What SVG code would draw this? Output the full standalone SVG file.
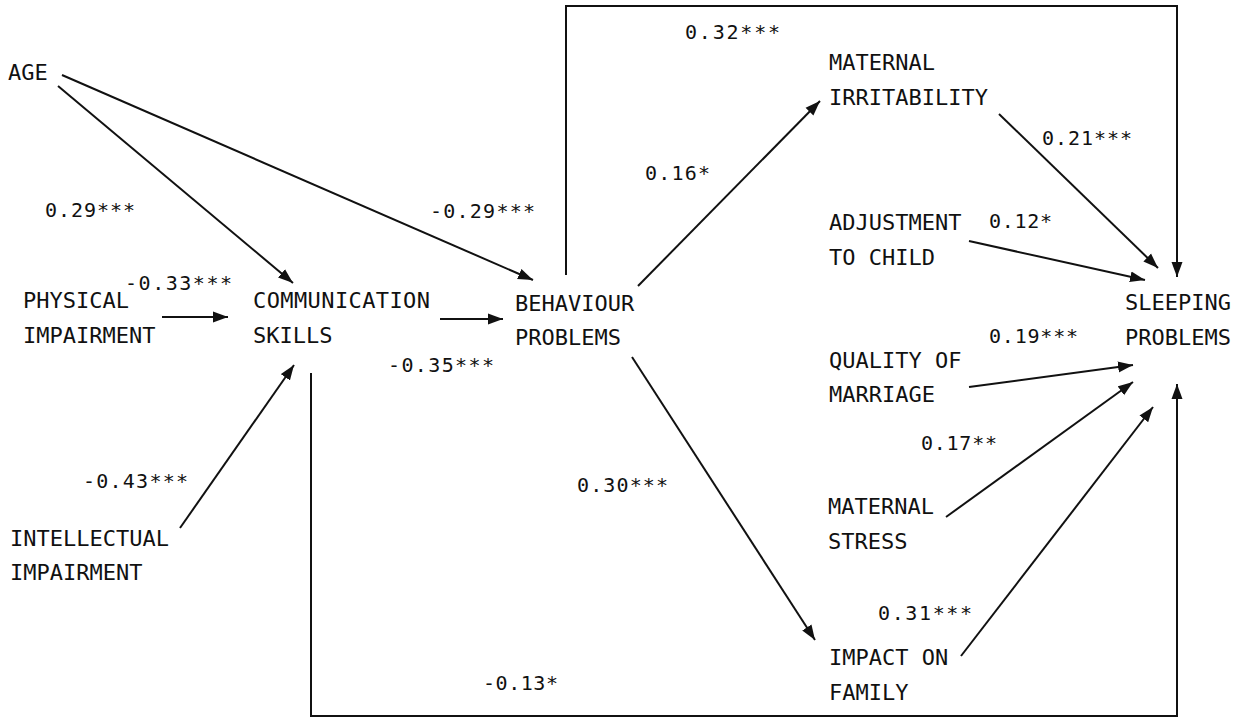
<svg xmlns="http://www.w3.org/2000/svg" width="1243" height="718" viewBox="0 0 1243 718">
<style>
.n{font-family:"DejaVu Sans Mono","Liberation Mono",monospace;font-size:22px;fill:#111}
.c{font-family:"DejaVu Sans Mono","Liberation Mono",monospace;font-size:20px;fill:#111}
.l{stroke:#111;stroke-width:2;fill:none}
</style>
<defs>
<marker id="a" markerUnits="userSpaceOnUse" markerWidth="16" markerHeight="12" refX="15" refY="6" orient="auto">
<path d="M0,0.5 L15,6 L0,11.5 z" fill="#111"/>
</marker>
</defs>
<rect width="1243" height="718" fill="#fff"/>
<g id="connectors">
<line class="l" x1="58" y1="86" x2="293" y2="283" marker-end="url(#a)"/>
<line class="l" x1="62" y1="75" x2="533" y2="280" marker-end="url(#a)"/>
<line class="l" x1="162" y1="317" x2="228" y2="317" marker-end="url(#a)"/>
<line class="l" x1="440" y1="319" x2="503" y2="319" marker-end="url(#a)"/>
<line class="l" x1="180" y1="528" x2="294" y2="365" marker-end="url(#a)"/>
<polyline class="l" points="311,373 311,716 1177,716 1177,384" marker-end="url(#a)"/>
<polyline class="l" points="566,275 566,6 1177,6 1177,277" marker-end="url(#a)"/>
<line class="l" x1="638" y1="286" x2="820" y2="101" marker-end="url(#a)"/>
<line class="l" x1="632" y1="357" x2="815" y2="640" marker-end="url(#a)"/>
<line class="l" x1="999" y1="114" x2="1158" y2="268" marker-end="url(#a)"/>
<line class="l" x1="969" y1="241" x2="1145" y2="280" marker-end="url(#a)"/>
<line class="l" x1="969" y1="387" x2="1133" y2="365" marker-end="url(#a)"/>
<line class="l" x1="946" y1="517" x2="1133" y2="382" marker-end="url(#a)"/>
<line class="l" x1="961" y1="656" x2="1153" y2="407" marker-end="url(#a)"/>
</g>
<g id="labels">
<text class="c" x="45" y="217" textLength="90" lengthAdjust="spacing">0.29***</text>
<text class="c" x="125" y="290" textLength="107" lengthAdjust="spacing">-0.33***</text>
<text class="c" x="430" y="218" textLength="105" lengthAdjust="spacing">-0.29***</text>
<text class="c" x="388" y="372" textLength="106" lengthAdjust="spacing">-0.35***</text>
<text class="c" x="685" y="39" textLength="95" lengthAdjust="spacing">0.32***</text>
<text class="c" x="645" y="180" textLength="65" lengthAdjust="spacing">0.16*</text>
<text class="c" x="1042" y="145" textLength="90" lengthAdjust="spacing">0.21***</text>
<text class="c" x="989" y="228" textLength="63" lengthAdjust="spacing">0.12*</text>
<text class="c" x="989" y="343" textLength="89" lengthAdjust="spacing">0.19***</text>
<text class="c" x="921" y="450" textLength="76" lengthAdjust="spacing">0.17**</text>
<text class="c" x="83" y="488" textLength="105" lengthAdjust="spacing">-0.43***</text>
<text class="c" x="577" y="492" textLength="91" lengthAdjust="spacing">0.30***</text>
<text class="c" x="878" y="620" textLength="94" lengthAdjust="spacing">0.31***</text>
<text class="c" x="483" y="690" textLength="75" lengthAdjust="spacing">-0.13*</text>
</g>
<g id="age"><text class="n" x="8" y="80">AGE</text></g>
<g id="physical"><text class="n" x="23" y="308">PHYSICAL</text><text class="n" x="23" y="343">IMPAIRMENT</text></g>
<g id="communication"><text class="n" x="253" y="308" textLength="177" lengthAdjust="spacing">COMMUNICATION</text><text class="n" x="253" y="343">SKILLS</text></g>
<g id="intellectual"><text class="n" x="10" y="546">INTELLECTUAL</text><text class="n" x="10" y="580">IMPAIRMENT</text></g>
<g id="behaviour"><text class="n" x="515" y="311">BEHAVIOUR</text><text class="n" x="515" y="345">PROBLEMS</text></g>
<g id="irritability"><text class="n" x="829" y="70">MATERNAL</text><text class="n" x="829" y="105">IRRITABILITY</text></g>
<g id="adjustment"><text class="n" x="829" y="230">ADJUSTMENT</text><text class="n" x="829" y="265">TO CHILD</text></g>
<g id="sleeping"><text class="n" x="1125" y="310">SLEEPING</text><text class="n" x="1125" y="345">PROBLEMS</text></g>
<g id="marriage"><text class="n" x="829" y="368">QUALITY OF</text><text class="n" x="829" y="402">MARRIAGE</text></g>
<g id="stress"><text class="n" x="828" y="514">MATERNAL</text><text class="n" x="828" y="549">STRESS</text></g>
<g id="impact"><text class="n" x="829" y="665">IMPACT ON</text><text class="n" x="829" y="700">FAMILY</text></g>
</svg>
